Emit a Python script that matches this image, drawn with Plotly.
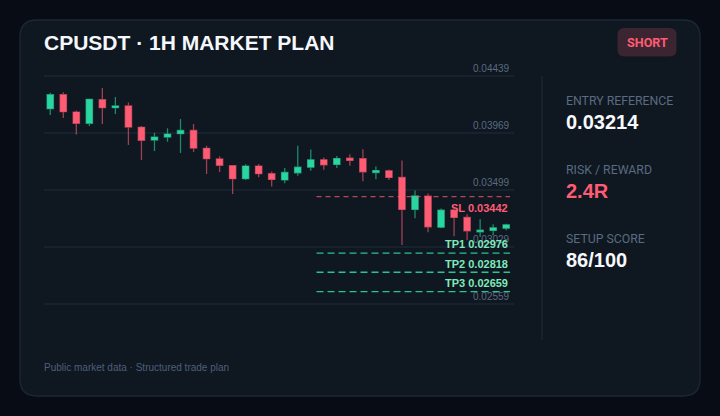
import plotly.graph_objects as go

W, H = 720, 416

opens = [.04167, .04282, .04139, .04046, .04241, .04175, .04189, .04013, .03908, .03933, .03961, .03988,
         .03840, .03752, .03697, .03590, .03694, .03631, .03580, .03638, .03685, .03745, .03707, .03759,
         .03754, .03641, .03655, .03600, .03336, .03446, .03190, .03330, .03270, .03152, .03163, .03182]
highs = [.04299, .04302, .04153, .04252, .04337, .04263, .04219, .04024, .03969, .04005, .04082, .04040,
         .03862, .03774, .03700, .03708, .03711, .03650, .03677, .03861, .03831, .03765, .03776, .03792,
         .03833, .03690, .03666, .03740, .03492, .03468, .03344, .03344, .03297, .03256, .03215, .03218]
lows = [.04115, .04090, .03955, .04024, .04040, .04123, .03867, .03744, .03818, .03895, .03801, .03810,
        .03628, .03645, .03463, .03579, .03601, .03526, .03553, .03613, .03655, .03663, .03677, .03696,
        .03569, .03586, .03580, .03042, .03264, .03149, .03182, .03116, .03083, .03110, .03121, .03165]
closes = [.04282, .04142, .04046, .04244, .04175, .04189, .04016, .03906, .03933, .03958, .03988, .03842,
          .03755, .03700, .03590, .03694, .03631, .03584, .03641, .03685, .03745, .03704, .03756, .03740,
          .03646, .03657, .03600, .03336, .03448, .03193, .03330, .03270, .03160, .03165, .03185, .03209]

grid_levels = [0.04439, 0.03969, 0.03499, 0.03029, 0.02559]
plan_names = ["SL", "TP1", "TP2", "TP3"]
plan_levels = [0.03442, 0.02976, 0.02818, 0.02659]

stats = [("ENTRY REFERENCE", "0.03214"), ("RISK / REWARD", "2.4R"), ("SETUP SCORE", "86/100")]

GREEN = "#2ad6a0"
RED = "#ff5c74"
GRID = "#18222e"
CARD = "#0f1720"
BORDER = "#1c2738"
MUTED = "#5a6b82"
PAGE = "#080d15"


def px(x):
    return x / W


def py(y):
    return 1 - y / H


def round_rect(x0, y0, x1, y1, r):
    # rounded box in paper coords, given in pixels
    pts = [
        f"M {px(x0 + r)} {py(y0)}", f"L {px(x1 - r)} {py(y0)}",
        f"Q {px(x1)} {py(y0)} {px(x1)} {py(y0 + r)}", f"L {px(x1)} {py(y1 - r)}",
        f"Q {px(x1)} {py(y1)} {px(x1 - r)} {py(y1)}", f"L {px(x0 + r)} {py(y1)}",
        f"Q {px(x0)} {py(y1)} {px(x0)} {py(y1 - r)}", f"L {px(x0)} {py(y0 + r)}",
        f"Q {px(x0)} {py(y0)} {px(x0 + r)} {py(y0)}", "Z",
    ]
    return " ".join(pts)


def text(x, y, s, size, color, family="Liberation Sans", bold=False, anchor="left"):
    return dict(xref="paper", yref="paper", x=px(x), y=py(y), text=f"<b>{s}</b>" if bold else s,
                showarrow=False, xanchor=anchor, yanchor="middle", borderpad=0,
                font=dict(size=size, color=color, family=family))


fig = go.Figure()
idx = list(range(len(opens)))
fig.add_trace(go.Candlestick(
    x=idx, open=opens, high=highs, low=lows, close=closes, whiskerwidth=0,
    increasing=dict(fillcolor=GREEN, line=dict(color="rgba(42,214,160,0.6)", width=1.3)),
    decreasing=dict(fillcolor=RED, line=dict(color="rgba(255,92,116,0.6)", width=1.3)),
))

# entry plan levels
for name, level in zip(plan_names, plan_levels):
    sl = name == "SL"
    fig.add_trace(go.Scatter(
        x=[20.44, 35.3], y=[level, level], mode="lines",
        line=dict(color="rgba(255,92,116,0.7)" if sl else "rgba(42,214,160,0.9)", width=1.4,
                  dash="5px,4px" if sl else "7px,4px"),
    ))

shapes = [
    dict(type="path", xref="paper", yref="paper", path=round_rect(20, 20, 700, 396, 17),
         fillcolor=CARD, line=dict(color=BORDER, width=1.3), layer="below"),
    dict(type="path", xref="paper", yref="paper", path=round_rect(617.5, 28, 676.5, 56.5, 7),
         fillcolor="#3b2530", line=dict(width=0), layer="below"),
    dict(type="line", xref="paper", yref="paper", x0=px(542), x1=px(542), y0=py(76), y1=py(340),
         line=dict(color=GRID, width=2), layer="below"),
]

annotations = [
    text(43, 42.5, "CPUSDT · 1H MARKET PLAN", 21, "#f4f7fb", bold=True),
    text(647.3, 42.5, "SHORT", 12.6, RED, family="Roboto", bold=True, anchor="center"),
    text(43, 367, "Public market data · Structured trade plan", 10, "#4d5f7c"),
]

for level in grid_levels:
    annotations.append(dict(xref="paper", yref="y", x=px(512), y=level, yshift=7.5, text=f"{level:.5f}",
                            showarrow=False, xanchor="right", yanchor="middle",
                            font=dict(size=10, color=MUTED, family="Liberation Sans")))

for name, level in zip(plan_names, plan_levels):
    sl = name == "SL"
    annotations.append(dict(xref="paper", yref="y", x=px(509.5), y=level, yshift=-11 if sl else 8.7,
                            text=f"<b>{name} {level:.5f}</b>", showarrow=False, xanchor="right",
                            yanchor="middle",
                            font=dict(size=11, color=RED if sl else "#7eeabc", family="Liberation Sans")))

stat_y = [(101, 122), (170, 191), (239.4, 260)]
for (label, value), (y0, y1) in zip(stats, stat_y):
    annotations.append(text(565, y0, label, 12.3, MUTED, family="Roboto"))
    annotations.append(text(565, y1, value, 20, RED if label.startswith("RISK") else "#f7f9fc", bold=True))

fig.update_layout(
    width=W, height=H, margin=dict(l=0, r=0, t=0, b=0, pad=0),
    paper_bgcolor=PAGE, plot_bgcolor="rgba(0,0,0,0)", showlegend=False,
    shapes=shapes, annotations=annotations,
    xaxis=dict(domain=[px(44), px(514)], range=[-0.48, 35.6], showgrid=False, zeroline=False,
               showticklabels=False, ticks="", showline=False, rangeslider=dict(visible=False)),
    # a little headroom so the top and bottom grid lines are not clipped
    yaxis=dict(domain=[py(308.7), py(70.7)], range=[0.025178, 0.044802], tickvals=grid_levels,
               gridcolor=GRID, gridwidth=2, showticklabels=False, ticks="", zeroline=False, showline=False),
)

fig.write_html("out.html", config=dict(displayModeBar=False),
               post_script="document.body.style.margin='0';document.body.style.background='" + PAGE + "';")
